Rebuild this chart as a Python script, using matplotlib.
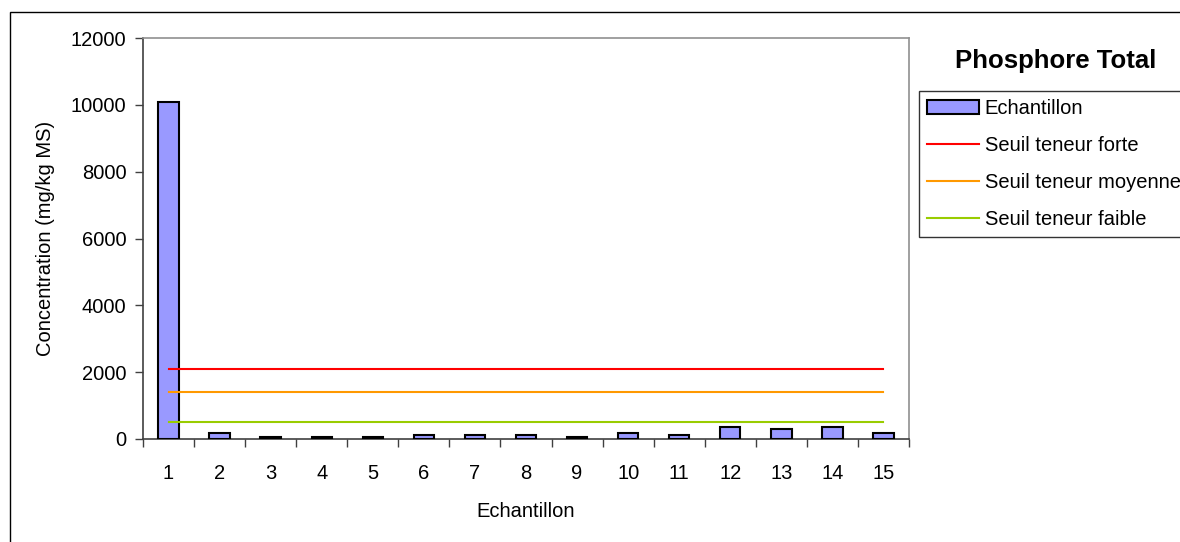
import matplotlib
matplotlib.use("Agg")
import matplotlib.pyplot as plt
from matplotlib.patches import Rectangle
import numpy as np

plt.rcParams['font.family'] = ['Liberation Sans', 'DejaVu Sans']

# ---- data ----
echantillons = list(range(1, 16))
concentration = [10080, 170, 65, 65, 65, 125, 125, 125, 65, 170, 125, 353, 285, 353, 170]
seuil_forte = [2100] * 15
seuil_moyenne = [1400] * 15
seuil_faible = [500] * 15
yticks = [0, 2000, 4000, 6000, 8000, 10000, 12000]

W, H = 1180, 542
fig = plt.figure(figsize=(W / 100, H / 100), dpi=100)
fig.patch.set_facecolor('white')

left, right, top, bottom = 143, 909, 38, 439
ax = fig.add_axes([left / W, 1 - bottom / H, (right - left) / W, (bottom - top) / H])

FS = 14.5
x = np.array(echantillons)
bars = ax.bar(x, concentration, width=0.4, color='#9999FF', edgecolor='black', linewidth=1.5,
              label='Echantillon', zorder=3)
l1, = ax.plot(x, seuil_forte, color='#FF0000', lw=1.5, label='Seuil teneur forte', zorder=4)
l2, = ax.plot(x, seuil_moyenne, color='#FF9900', lw=1.5, label='Seuil teneur moyenne', zorder=4)
l3, = ax.plot(x, seuil_faible, color='#99CC00', lw=1.5, label='Seuil teneur faible', zorder=4)

ax.set_xlim(0.5, 15.5)
ax.set_ylim(0, 12000)
ax.set_yticks(yticks)
ax.set_yticklabels([str(v) for v in yticks], fontsize=FS)
ax.set_xticks(x)
ax.set_xticklabels([str(v) for v in echantillons], fontsize=FS)
ax.set_xticks(np.arange(0.5, 16, 1), minor=True)
ax.tick_params(axis='x', which='major', length=0, pad=18)
ax.tick_params(axis='x', which='minor', length=6, width=1, color='#404040', direction='out')
ax.tick_params(axis='y', which='major', length=6, width=1, color='#404040', direction='out', pad=6)

for s in ['left', 'bottom']:
    ax.spines[s].set_color('#404040')
    ax.spines[s].set_linewidth(1.2)
for s in ['top', 'right']:
    ax.spines[s].set_color('#909090')
    ax.spines[s].set_linewidth(1.2)

ax.set_xlabel('Echantillon', fontsize=FS, labelpad=14)
ax.set_ylabel('Concentration (mg/kg MS)', fontsize=FS, labelpad=11)

# Title
fig.text(1056 / W, 1 - 61 / H, 'Phosphore Total', fontsize=18.5, fontweight='bold',
         ha='center', va='center')

# Legend
leg = fig.legend(handles=[bars, l1, l2, l3],
                 labels=['Echantillon', 'Seuil teneur forte', 'Seuil teneur moyenne', 'Seuil teneur faible'],
                 loc='upper left', bbox_to_anchor=(919 / W, 1 - 91 / H),
                 bbox_transform=fig.transFigure, fontsize=FS, frameon=True,
                 fancybox=False, edgecolor='black', handlelength=2.55,
                 handletextpad=0.3, borderpad=0.42, labelspacing=0.88,
                 borderaxespad=0)
leg.get_frame().set_linewidth(1.0)

# Outer chart frame
fig.patches.append(Rectangle((10 / W, -0.05), 1.2, 1 - 12 / H + 0.05,
                             transform=fig.transFigure, fill=False,
                             edgecolor='black', linewidth=1.0))

fig.savefig('out.png', dpi=100)
